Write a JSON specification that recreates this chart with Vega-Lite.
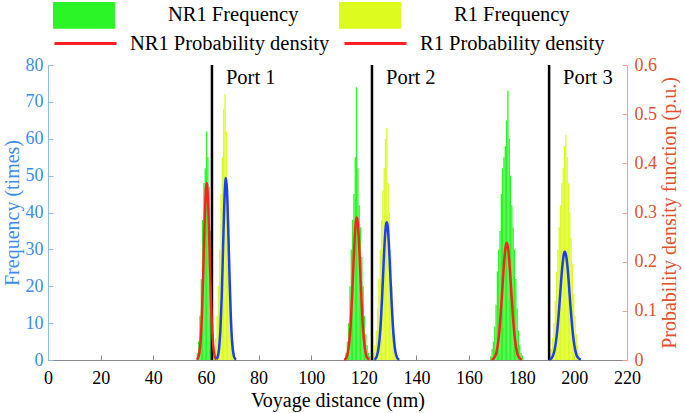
{
  "$schema": "https://vega.github.io/schema/vega-lite/v6.json",
  "autosize": {"type": "none"},
  "padding": {"left": 48, "top": 65, "right": 58, "bottom": 53},
  "width": 579,
  "height": 295,
  "config": {
    "view": {"stroke": null},
    "font": "Liberation Serif",
    "axis": {"grid": false, "labelFont": "Liberation Serif", "titleFont": "Liberation Serif", "titleFontWeight": "normal", "labelFontSize": 18, "titleFontSize": 20, "tickSize": -5, "labelOverlap": false, "labelFlush": false},
    "legend": {"labelFont": "Liberation Serif"}
  },
  "datasets": {
    "hist": [
      {"series": "NR1 Frequency", "b0": 56.5, "b1": 57, "f": 2},
      {"series": "NR1 Frequency", "b0": 57, "b1": 57.5, "f": 5},
      {"series": "NR1 Frequency", "b0": 57.5, "b1": 58, "f": 12},
      {"series": "NR1 Frequency", "b0": 58, "b1": 58.5, "f": 22},
      {"series": "NR1 Frequency", "b0": 58.5, "b1": 59, "f": 38},
      {"series": "NR1 Frequency", "b0": 59, "b1": 59.5, "f": 48},
      {"series": "NR1 Frequency", "b0": 59.5, "b1": 60, "f": 52},
      {"series": "NR1 Frequency", "b0": 60, "b1": 60.5, "f": 62},
      {"series": "NR1 Frequency", "b0": 60.5, "b1": 61, "f": 55},
      {"series": "NR1 Frequency", "b0": 61, "b1": 61.5, "f": 47},
      {"series": "NR1 Frequency", "b0": 61.5, "b1": 62, "f": 35},
      {"series": "NR1 Frequency", "b0": 62, "b1": 62.5, "f": 18},
      {"series": "NR1 Frequency", "b0": 62.5, "b1": 63, "f": 7},
      {"series": "NR1 Frequency", "b0": 63, "b1": 63.5, "f": 2},
      {"series": "R1 Frequency", "b0": 62.5, "b1": 63, "f": 1},
      {"series": "R1 Frequency", "b0": 63, "b1": 63.5, "f": 3},
      {"series": "R1 Frequency", "b0": 63.5, "b1": 64, "f": 6},
      {"series": "R1 Frequency", "b0": 64, "b1": 64.5, "f": 12},
      {"series": "R1 Frequency", "b0": 64.5, "b1": 65, "f": 20},
      {"series": "R1 Frequency", "b0": 65, "b1": 65.5, "f": 30},
      {"series": "R1 Frequency", "b0": 65.5, "b1": 66, "f": 45},
      {"series": "R1 Frequency", "b0": 66, "b1": 66.5, "f": 55},
      {"series": "R1 Frequency", "b0": 66.5, "b1": 67, "f": 68},
      {"series": "R1 Frequency", "b0": 67, "b1": 67.5, "f": 72},
      {"series": "R1 Frequency", "b0": 67.5, "b1": 68, "f": 62},
      {"series": "R1 Frequency", "b0": 68, "b1": 68.5, "f": 48},
      {"series": "R1 Frequency", "b0": 68.5, "b1": 69, "f": 33},
      {"series": "R1 Frequency", "b0": 69, "b1": 69.5, "f": 20},
      {"series": "R1 Frequency", "b0": 69.5, "b1": 70, "f": 11},
      {"series": "R1 Frequency", "b0": 70, "b1": 70.5, "f": 5},
      {"series": "R1 Frequency", "b0": 70.5, "b1": 71, "f": 2},
      {"series": "NR1 Frequency", "b0": 113, "b1": 113.5, "f": 2},
      {"series": "NR1 Frequency", "b0": 113.5, "b1": 114, "f": 5},
      {"series": "NR1 Frequency", "b0": 114, "b1": 114.5, "f": 10},
      {"series": "NR1 Frequency", "b0": 114.5, "b1": 115, "f": 20},
      {"series": "NR1 Frequency", "b0": 115, "b1": 115.5, "f": 30},
      {"series": "NR1 Frequency", "b0": 115.5, "b1": 116, "f": 38},
      {"series": "NR1 Frequency", "b0": 116, "b1": 116.5, "f": 45},
      {"series": "NR1 Frequency", "b0": 116.5, "b1": 117, "f": 55},
      {"series": "NR1 Frequency", "b0": 117, "b1": 117.5, "f": 74},
      {"series": "NR1 Frequency", "b0": 117.5, "b1": 118, "f": 52},
      {"series": "NR1 Frequency", "b0": 118, "b1": 118.5, "f": 42},
      {"series": "NR1 Frequency", "b0": 118.5, "b1": 119, "f": 36},
      {"series": "NR1 Frequency", "b0": 119, "b1": 119.5, "f": 28},
      {"series": "NR1 Frequency", "b0": 119.5, "b1": 120, "f": 20},
      {"series": "NR1 Frequency", "b0": 120, "b1": 120.5, "f": 12},
      {"series": "NR1 Frequency", "b0": 120.5, "b1": 121, "f": 7},
      {"series": "NR1 Frequency", "b0": 121, "b1": 121.5, "f": 4},
      {"series": "NR1 Frequency", "b0": 121.5, "b1": 122, "f": 2},
      {"series": "NR1 Frequency", "b0": 122, "b1": 122.5, "f": 1},
      {"series": "R1 Frequency", "b0": 123.5, "b1": 124, "f": 2},
      {"series": "R1 Frequency", "b0": 124, "b1": 124.5, "f": 4},
      {"series": "R1 Frequency", "b0": 124.5, "b1": 125, "f": 8},
      {"series": "R1 Frequency", "b0": 125, "b1": 125.5, "f": 14},
      {"series": "R1 Frequency", "b0": 125.5, "b1": 126, "f": 22},
      {"series": "R1 Frequency", "b0": 126, "b1": 126.5, "f": 30},
      {"series": "R1 Frequency", "b0": 126.5, "b1": 127, "f": 38},
      {"series": "R1 Frequency", "b0": 127, "b1": 127.5, "f": 46},
      {"series": "R1 Frequency", "b0": 127.5, "b1": 128, "f": 52},
      {"series": "R1 Frequency", "b0": 128, "b1": 128.5, "f": 60},
      {"series": "R1 Frequency", "b0": 128.5, "b1": 129, "f": 63},
      {"series": "R1 Frequency", "b0": 129, "b1": 129.5, "f": 48},
      {"series": "R1 Frequency", "b0": 129.5, "b1": 130, "f": 40},
      {"series": "R1 Frequency", "b0": 130, "b1": 130.5, "f": 30},
      {"series": "R1 Frequency", "b0": 130.5, "b1": 131, "f": 20},
      {"series": "R1 Frequency", "b0": 131, "b1": 131.5, "f": 12},
      {"series": "R1 Frequency", "b0": 131.5, "b1": 132, "f": 7},
      {"series": "R1 Frequency", "b0": 132, "b1": 132.5, "f": 3},
      {"series": "R1 Frequency", "b0": 132.5, "b1": 133, "f": 1},
      {"series": "NR1 Frequency", "b0": 168, "b1": 168.5, "f": 1},
      {"series": "NR1 Frequency", "b0": 168.5, "b1": 169, "f": 3},
      {"series": "NR1 Frequency", "b0": 169, "b1": 169.5, "f": 5},
      {"series": "NR1 Frequency", "b0": 169.5, "b1": 170, "f": 9},
      {"series": "NR1 Frequency", "b0": 170, "b1": 170.5, "f": 15},
      {"series": "NR1 Frequency", "b0": 170.5, "b1": 171, "f": 24},
      {"series": "NR1 Frequency", "b0": 171, "b1": 171.5, "f": 30},
      {"series": "NR1 Frequency", "b0": 171.5, "b1": 172, "f": 35},
      {"series": "NR1 Frequency", "b0": 172, "b1": 172.5, "f": 45},
      {"series": "NR1 Frequency", "b0": 172.5, "b1": 173, "f": 52},
      {"series": "NR1 Frequency", "b0": 173, "b1": 173.5, "f": 55},
      {"series": "NR1 Frequency", "b0": 173.5, "b1": 174, "f": 58},
      {"series": "NR1 Frequency", "b0": 174, "b1": 174.5, "f": 65},
      {"series": "NR1 Frequency", "b0": 174.5, "b1": 175, "f": 73},
      {"series": "NR1 Frequency", "b0": 175, "b1": 175.5, "f": 60},
      {"series": "NR1 Frequency", "b0": 175.5, "b1": 176, "f": 50},
      {"series": "NR1 Frequency", "b0": 176, "b1": 176.5, "f": 42},
      {"series": "NR1 Frequency", "b0": 176.5, "b1": 177, "f": 36},
      {"series": "NR1 Frequency", "b0": 177, "b1": 177.5, "f": 30},
      {"series": "NR1 Frequency", "b0": 177.5, "b1": 178, "f": 22},
      {"series": "NR1 Frequency", "b0": 178, "b1": 178.5, "f": 14},
      {"series": "NR1 Frequency", "b0": 178.5, "b1": 179, "f": 8},
      {"series": "NR1 Frequency", "b0": 179, "b1": 179.5, "f": 4},
      {"series": "NR1 Frequency", "b0": 179.5, "b1": 180, "f": 2},
      {"series": "NR1 Frequency", "b0": 180, "b1": 180.5, "f": 1},
      {"series": "R1 Frequency", "b0": 190.5, "b1": 191, "f": 1},
      {"series": "R1 Frequency", "b0": 191, "b1": 191.5, "f": 3},
      {"series": "R1 Frequency", "b0": 191.5, "b1": 192, "f": 6},
      {"series": "R1 Frequency", "b0": 192, "b1": 192.5, "f": 10},
      {"series": "R1 Frequency", "b0": 192.5, "b1": 193, "f": 16},
      {"series": "R1 Frequency", "b0": 193, "b1": 193.5, "f": 24},
      {"series": "R1 Frequency", "b0": 193.5, "b1": 194, "f": 30},
      {"series": "R1 Frequency", "b0": 194, "b1": 194.5, "f": 36},
      {"series": "R1 Frequency", "b0": 194.5, "b1": 195, "f": 42},
      {"series": "R1 Frequency", "b0": 195, "b1": 195.5, "f": 48},
      {"series": "R1 Frequency", "b0": 195.5, "b1": 196, "f": 52},
      {"series": "R1 Frequency", "b0": 196, "b1": 196.5, "f": 58},
      {"series": "R1 Frequency", "b0": 196.5, "b1": 197, "f": 61},
      {"series": "R1 Frequency", "b0": 197, "b1": 197.5, "f": 55},
      {"series": "R1 Frequency", "b0": 197.5, "b1": 198, "f": 48},
      {"series": "R1 Frequency", "b0": 198, "b1": 198.5, "f": 40},
      {"series": "R1 Frequency", "b0": 198.5, "b1": 199, "f": 33},
      {"series": "R1 Frequency", "b0": 199, "b1": 199.5, "f": 26},
      {"series": "R1 Frequency", "b0": 199.5, "b1": 200, "f": 18},
      {"series": "R1 Frequency", "b0": 200, "b1": 200.5, "f": 12},
      {"series": "R1 Frequency", "b0": 200.5, "b1": 201, "f": 7},
      {"series": "R1 Frequency", "b0": 201, "b1": 201.5, "f": 4},
      {"series": "R1 Frequency", "b0": 201.5, "b1": 202, "f": 2}
    ],
    "pdf": [
      {"series": "NR1 Probability density", "g": "1", "x": 56.5, "d": 0.001},
      {"series": "NR1 Probability density", "g": "1", "x": 57, "d": 0.004},
      {"series": "NR1 Probability density", "g": "1", "x": 57.5, "d": 0.014},
      {"series": "NR1 Probability density", "g": "1", "x": 58, "d": 0.040},
      {"series": "NR1 Probability density", "g": "1", "x": 58.5, "d": 0.094},
      {"series": "NR1 Probability density", "g": "1", "x": 59, "d": 0.179},
      {"series": "NR1 Probability density", "g": "1", "x": 59.5, "d": 0.276},
      {"series": "NR1 Probability density", "g": "1", "x": 60, "d": 0.347},
      {"series": "NR1 Probability density", "g": "1", "x": 60.3, "d": 0.360},
      {"series": "NR1 Probability density", "g": "1", "x": 60.5, "d": 0.354},
      {"series": "NR1 Probability density", "g": "1", "x": 61, "d": 0.294},
      {"series": "NR1 Probability density", "g": "1", "x": 61.5, "d": 0.199},
      {"series": "NR1 Probability density", "g": "1", "x": 62, "d": 0.109},
      {"series": "NR1 Probability density", "g": "1", "x": 62.5, "d": 0.049},
      {"series": "NR1 Probability density", "g": "1", "x": 63, "d": 0.018},
      {"series": "NR1 Probability density", "g": "1", "x": 63.5, "d": 0.005},
      {"series": "NR1 Probability density", "g": "1", "x": 64, "d": 0.001},
      {"series": "R1 Probability density", "g": "1", "x": 64, "d": 0.002},
      {"series": "R1 Probability density", "g": "1", "x": 64.5, "d": 0.007},
      {"series": "R1 Probability density", "g": "1", "x": 65, "d": 0.023},
      {"series": "R1 Probability density", "g": "1", "x": 65.5, "d": 0.060},
      {"series": "R1 Probability density", "g": "1", "x": 66, "d": 0.128},
      {"series": "R1 Probability density", "g": "1", "x": 66.5, "d": 0.224},
      {"series": "R1 Probability density", "g": "1", "x": 67, "d": 0.319},
      {"series": "R1 Probability density", "g": "1", "x": 67.5, "d": 0.368},
      {"series": "R1 Probability density", "g": "1", "x": 67.6, "d": 0.370},
      {"series": "R1 Probability density", "g": "1", "x": 68, "d": 0.346},
      {"series": "R1 Probability density", "g": "1", "x": 68.5, "d": 0.265},
      {"series": "R1 Probability density", "g": "1", "x": 69, "d": 0.165},
      {"series": "R1 Probability density", "g": "1", "x": 69.5, "d": 0.083},
      {"series": "R1 Probability density", "g": "1", "x": 70, "d": 0.034},
      {"series": "R1 Probability density", "g": "1", "x": 70.5, "d": 0.011},
      {"series": "R1 Probability density", "g": "1", "x": 71, "d": 0.003},
      {"series": "R1 Probability density", "g": "1", "x": 71.5, "d": 0.001},
      {"series": "NR1 Probability density", "g": "2", "x": 112.5, "d": 0.001},
      {"series": "NR1 Probability density", "g": "2", "x": 113, "d": 0.002},
      {"series": "NR1 Probability density", "g": "2", "x": 113.5, "d": 0.007},
      {"series": "NR1 Probability density", "g": "2", "x": 114, "d": 0.017},
      {"series": "NR1 Probability density", "g": "2", "x": 114.5, "d": 0.037},
      {"series": "NR1 Probability density", "g": "2", "x": 115, "d": 0.072},
      {"series": "NR1 Probability density", "g": "2", "x": 115.5, "d": 0.124},
      {"series": "NR1 Probability density", "g": "2", "x": 116, "d": 0.186},
      {"series": "NR1 Probability density", "g": "2", "x": 116.5, "d": 0.245},
      {"series": "NR1 Probability density", "g": "2", "x": 117, "d": 0.283},
      {"series": "NR1 Probability density", "g": "2", "x": 117.3, "d": 0.290},
      {"series": "NR1 Probability density", "g": "2", "x": 117.5, "d": 0.287},
      {"series": "NR1 Probability density", "g": "2", "x": 118, "d": 0.255},
      {"series": "NR1 Probability density", "g": "2", "x": 118.5, "d": 0.199},
      {"series": "NR1 Probability density", "g": "2", "x": 119, "d": 0.136},
      {"series": "NR1 Probability density", "g": "2", "x": 119.5, "d": 0.081},
      {"series": "NR1 Probability density", "g": "2", "x": 120, "d": 0.043},
      {"series": "NR1 Probability density", "g": "2", "x": 120.5, "d": 0.020},
      {"series": "NR1 Probability density", "g": "2", "x": 121, "d": 0.008},
      {"series": "NR1 Probability density", "g": "2", "x": 121.5, "d": 0.003},
      {"series": "NR1 Probability density", "g": "2", "x": 122, "d": 0.001},
      {"series": "R1 Probability density", "g": "2", "x": 124, "d": 0.001},
      {"series": "R1 Probability density", "g": "2", "x": 124.5, "d": 0.003},
      {"series": "R1 Probability density", "g": "2", "x": 125, "d": 0.009},
      {"series": "R1 Probability density", "g": "2", "x": 125.5, "d": 0.021},
      {"series": "R1 Probability density", "g": "2", "x": 126, "d": 0.044},
      {"series": "R1 Probability density", "g": "2", "x": 126.5, "d": 0.081},
      {"series": "R1 Probability density", "g": "2", "x": 127, "d": 0.134},
      {"series": "R1 Probability density", "g": "2", "x": 127.5, "d": 0.194},
      {"series": "R1 Probability density", "g": "2", "x": 128, "d": 0.247},
      {"series": "R1 Probability density", "g": "2", "x": 128.5, "d": 0.277},
      {"series": "R1 Probability density", "g": "2", "x": 128.7, "d": 0.280},
      {"series": "R1 Probability density", "g": "2", "x": 129, "d": 0.274},
      {"series": "R1 Probability density", "g": "2", "x": 129.5, "d": 0.238},
      {"series": "R1 Probability density", "g": "2", "x": 130, "d": 0.182},
      {"series": "R1 Probability density", "g": "2", "x": 130.5, "d": 0.123},
      {"series": "R1 Probability density", "g": "2", "x": 131, "d": 0.073},
      {"series": "R1 Probability density", "g": "2", "x": 131.5, "d": 0.038},
      {"series": "R1 Probability density", "g": "2", "x": 132, "d": 0.017},
      {"series": "R1 Probability density", "g": "2", "x": 132.5, "d": 0.007},
      {"series": "R1 Probability density", "g": "2", "x": 133, "d": 0.002},
      {"series": "R1 Probability density", "g": "2", "x": 133.5, "d": 0.001},
      {"series": "NR1 Probability density", "g": "3", "x": 168.5, "d": 0.001},
      {"series": "NR1 Probability density", "g": "3", "x": 169, "d": 0.002},
      {"series": "NR1 Probability density", "g": "3", "x": 169.5, "d": 0.004},
      {"series": "NR1 Probability density", "g": "3", "x": 170, "d": 0.009},
      {"series": "NR1 Probability density", "g": "3", "x": 170.5, "d": 0.018},
      {"series": "NR1 Probability density", "g": "3", "x": 171, "d": 0.035},
      {"series": "NR1 Probability density", "g": "3", "x": 171.5, "d": 0.059},
      {"series": "NR1 Probability density", "g": "3", "x": 172, "d": 0.093},
      {"series": "NR1 Probability density", "g": "3", "x": 172.5, "d": 0.134},
      {"series": "NR1 Probability density", "g": "3", "x": 173, "d": 0.176},
      {"series": "NR1 Probability density", "g": "3", "x": 173.5, "d": 0.212},
      {"series": "NR1 Probability density", "g": "3", "x": 174, "d": 0.234},
      {"series": "NR1 Probability density", "g": "3", "x": 174.3, "d": 0.238},
      {"series": "NR1 Probability density", "g": "3", "x": 174.5, "d": 0.236},
      {"series": "NR1 Probability density", "g": "3", "x": 175, "d": 0.218},
      {"series": "NR1 Probability density", "g": "3", "x": 175.5, "d": 0.184},
      {"series": "NR1 Probability density", "g": "3", "x": 176, "d": 0.143},
      {"series": "NR1 Probability density", "g": "3", "x": 176.5, "d": 0.101},
      {"series": "NR1 Probability density", "g": "3", "x": 177, "d": 0.065},
      {"series": "NR1 Probability density", "g": "3", "x": 177.5, "d": 0.039},
      {"series": "NR1 Probability density", "g": "3", "x": 178, "d": 0.021},
      {"series": "NR1 Probability density", "g": "3", "x": 178.5, "d": 0.010},
      {"series": "NR1 Probability density", "g": "3", "x": 179, "d": 0.005},
      {"series": "NR1 Probability density", "g": "3", "x": 179.5, "d": 0.002},
      {"series": "NR1 Probability density", "g": "3", "x": 180, "d": 0.001},
      {"series": "R1 Probability density", "g": "3", "x": 190.5, "d": 0.001},
      {"series": "R1 Probability density", "g": "3", "x": 191, "d": 0.002},
      {"series": "R1 Probability density", "g": "3", "x": 191.5, "d": 0.005},
      {"series": "R1 Probability density", "g": "3", "x": 192, "d": 0.011},
      {"series": "R1 Probability density", "g": "3", "x": 192.5, "d": 0.021},
      {"series": "R1 Probability density", "g": "3", "x": 193, "d": 0.037},
      {"series": "R1 Probability density", "g": "3", "x": 193.5, "d": 0.060},
      {"series": "R1 Probability density", "g": "3", "x": 194, "d": 0.090},
      {"series": "R1 Probability density", "g": "3", "x": 194.5, "d": 0.126},
      {"series": "R1 Probability density", "g": "3", "x": 195, "d": 0.163},
      {"series": "R1 Probability density", "g": "3", "x": 195.5, "d": 0.194},
      {"series": "R1 Probability density", "g": "3", "x": 196, "d": 0.215},
      {"series": "R1 Probability density", "g": "3", "x": 196.4, "d": 0.220},
      {"series": "R1 Probability density", "g": "3", "x": 197, "d": 0.208},
      {"series": "R1 Probability density", "g": "3", "x": 197.5, "d": 0.183},
      {"series": "R1 Probability density", "g": "3", "x": 198, "d": 0.148},
      {"series": "R1 Probability density", "g": "3", "x": 198.5, "d": 0.111},
      {"series": "R1 Probability density", "g": "3", "x": 199, "d": 0.078},
      {"series": "R1 Probability density", "g": "3", "x": 199.5, "d": 0.050},
      {"series": "R1 Probability density", "g": "3", "x": 200, "d": 0.030},
      {"series": "R1 Probability density", "g": "3", "x": 200.5, "d": 0.016},
      {"series": "R1 Probability density", "g": "3", "x": 201, "d": 0.008},
      {"series": "R1 Probability density", "g": "3", "x": 201.5, "d": 0.004},
      {"series": "R1 Probability density", "g": "3", "x": 202, "d": 0.002},
      {"series": "R1 Probability density", "g": "3", "x": 202.5, "d": 0.001}
    ],
    "ports": [
      {"port": "Port 1", "pos": 62.3},
      {"port": "Port 2", "pos": 123.1},
      {"port": "Port 3", "pos": 190.4}
    ]
  },
  "layer": [
    {
      "layer": [
        {
          "data": {"name": "hist"},
          "mark": {"type": "rect", "strokeWidth": 0},
          "encoding": {
            "x": {"field": "b0", "type": "quantitative", "scale": {"domain": [0, 220], "nice": false},
              "axis": {"title": "Voyage distance (nm)", "values": [0, 20, 40, 60, 80, 100, 120, 140, 160, 180, 200, 220], "labelColor": "black", "titleColor": "black", "domainColor": "#888888", "tickColor": "#888888", "labelPadding": 14, "titlePadding": 3}},
            "x2": {"field": "b1"},
            "y": {"field": "f", "type": "quantitative", "scale": {"domain": [0, 80], "nice": false},
              "axis": {"orient": "left", "title": "Frequency (times)", "values": [0, 10, 20, 30, 40, 50, 60, 70, 80], "labelOverlap": false, "labelColor": "#3b8ced", "titleColor": "#3b8ced", "domainColor": "#8fbcf2", "tickColor": "#8fbcf2", "labelPadding": 10, "titlePadding": 3}},
            "y2": {"datum": 0},
            "fill": {"field": "series", "type": "nominal",
              "scale": {"domain": ["NR1 Frequency", "R1 Frequency"], "range": ["#2cf527", "#ddfb1f"]},
              "legend": {"orient": "none", "legendX": 5, "legendY": -81, "direction": "horizontal", "title": null, "padding": 0,
                "symbolType": "M-1,-0.43H1V0.43H-1Z", "symbolSize": 3844, "symbolStrokeWidth": 0, "symbolOpacity": 1,
                "labelOffset": 53, "columnPadding": 40, "labelFontSize": 20.5, "labelColor": "black", "labelLimit": 400}}
          }
        },
        {
          "data": {"name": "ports"},
          "mark": {"type": "rule", "color": "black", "strokeWidth": 2.5},
          "encoding": {"x": {"field": "pos", "type": "quantitative"}}
        },
        {
          "data": {"name": "ports"},
          "mark": {"type": "text", "align": "left", "baseline": "middle", "dx": 14, "fontSize": 20.5, "color": "black"},
          "encoding": {
            "x": {"field": "pos", "type": "quantitative"},
            "y": {"datum": 76.5, "type": "quantitative",
              "axis": {"orient": "left", "title": "Frequency (times)", "values": [0, 10, 20, 30, 40, 50, 60, 70, 80], "labelOverlap": false, "labelColor": "#3b8ced", "titleColor": "#3b8ced", "domainColor": "#8fbcf2", "tickColor": "#8fbcf2", "labelPadding": 10, "titlePadding": 3}},
            "text": {"field": "port"}
          }
        }
      ]
    },
    {
      "layer": [
        {
          "data": {"name": "pdf"},
          "transform": [{"filter": "datum.series == 'NR1 Probability density'"}],
          "mark": {"type": "line", "strokeWidth": 2.5, "interpolate": "monotone"},
          "encoding": {
            "x": {"field": "x", "type": "quantitative"},
            "y": {"field": "d", "type": "quantitative", "scale": {"domain": [0, 0.6], "nice": false},
              "axis": {"orient": "right", "title": "Probability density function (p.u.)", "titleAngle": 270, "titleBaseline": "top", "values": [0, 0.1, 0.2, 0.3, 0.4, 0.5, 0.6], "format": ".1~f", "labelColor": "#e4502c", "titleColor": "#e4502c", "domainColor": "#f0a08e", "tickColor": "#f0a08e", "labelPadding": 12, "titlePadding": 3}},
            "detail": {"field": "g"},
            "stroke": {"field": "series", "type": "nominal",
              "scale": {"domain": ["NR1 Probability density", "R1 Probability density"], "range": ["#ff2121", "#ff2121"]},
              "legend": {"orient": "none", "legendX": 5, "legendY": -54, "direction": "horizontal", "title": null, "padding": 0,
                "symbolType": "stroke", "symbolSize": 3844, "symbolStrokeWidth": 3,
                "labelOffset": 12, "columnPadding": 8, "labelFontSize": 20.5, "labelColor": "black", "labelLimit": 400}}
          }
        },
        {
          "data": {"name": "pdf"},
          "transform": [{"filter": "datum.series == 'R1 Probability density'"}],
          "mark": {"type": "line", "strokeWidth": 2.5, "interpolate": "monotone", "color": "#1c3dff"},
          "encoding": {
            "x": {"field": "x", "type": "quantitative"},
            "y": {"field": "d", "type": "quantitative"},
            "detail": {"field": "g"}
          }
        }
      ]
    }
  ],
  "resolve": {"scale": {"y": "independent"}}
}
